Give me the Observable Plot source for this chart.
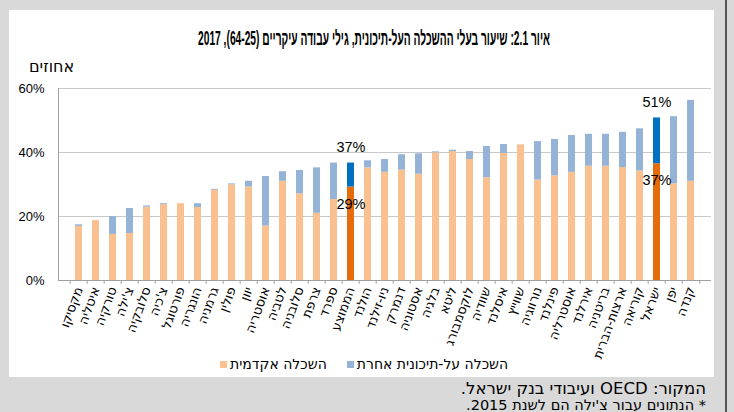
<!DOCTYPE html>
<html lang="he">
<head>
<meta charset="utf-8">
<script src="https://cdn.jsdelivr.net/npm/d3@7"></script>
<script src="https://cdn.jsdelivr.net/npm/@observablehq/plot@0.6"></script>
<style>
  body{margin:0;width:734px;height:412px;background:#d9d9d9;position:relative;overflow:hidden;font-family:"DejaVu Sans","Liberation Sans",sans-serif;color:#000;}
  #panel{position:absolute;left:9px;top:10px;width:705px;height:367px;background:#fff;}
  #rline{position:absolute;left:725px;top:0;width:2px;height:412px;background:#555;}
  #title{position:absolute;left:374px;top:26px;white-space:nowrap;font-weight:bold;font-size:20px;line-height:24px;direction:rtl;font-family:"Liberation Sans","DejaVu Sans",sans-serif;transform-origin:center center;}
  #ylab{position:absolute;left:29px;top:57px;font-size:16px;direction:rtl;white-space:nowrap;}
  #chart{position:absolute;left:0;top:55px;}
  #legend{position:absolute;left:220px;top:356px;display:flex;align-items:center;font-size:14px;white-space:nowrap;}
  .item{display:flex;align-items:center;margin-right:20px;}
  .sq{width:7px;height:7px;margin-right:3px;}
  .txt{direction:rtl;}
  #source{position:absolute;right:28px;top:379px;font-size:16.5px;direction:rtl;white-space:nowrap;}
  #note{position:absolute;right:28px;top:397px;font-size:14.5px;direction:rtl;white-space:nowrap;}
</style>
</head>
<body>
<div id="panel"></div>
<div id="rline"></div>
<div id="title">איור 2.1: שיעור בעלי ההשכלה העל-תיכונית, גילי עבודה עיקריים (64-25), 2017</div>
<div id="ylab">אחוזים</div>
<div id="chart"></div>
<div id="legend"></div>
<div id="source">המקור: OECD ועיבודי בנק ישראל.</div>
<div id="note">* הנתונים עבור צ'ילה הם לשנת 2015.</div>
<script>
const countries = ["מקסיקו","איטליה","טורקיה","צ'ילה","סלובקיה","צ'כיה","פורטוגל","הונגריה","גרמניה","פולין","יוון","אוסטריה","לטביה","סלובניה","צרפת","ספרד","הממוצע","הולנד","ניו-זילנד","דנמרק","אסטוניה","בלגיה","ליטא","לוקסמבורג","שוודיה","איסלנד","שווייץ","נורווגיה","פינלנד","אוסטרליה","אירלנד","בריטניה","ארצות-הברית","קוריאה","ישראל","יפן","קנדה"];
const academic = [16.9,18.7,14.4,14.7,22.9,23.7,24.0,22.8,28.2,29.9,29.2,17.0,31.0,27.1,21.0,25.3,29.2,35.2,33.8,34.5,33.2,39.9,40.3,37.8,32.1,39.7,42.4,31.4,32.7,33.8,35.7,35.7,35.3,34.2,36.5,30.2,31.0];
const otherTertiary = [0.5,0,5.6,7.8,0.4,0.3,0,1.2,0.3,0.3,1.8,15.5,3.0,7.3,14.2,11.4,7.5,2.2,4.0,4.8,6.4,0.3,0.4,2.5,9.8,2.8,0,12.0,11.4,11.5,10.0,10.0,11.0,13.2,14.3,21.0,25.3];
const highlighted = ["הממוצע","ישראל"];
const seriesNames = ["השכלה אקדמית","השכלה על-תיכונית אחרת"];
const yTicks = [0,20,40,60];
const lightColors = ["#FAC090","#95B3D7"];
const darkColors = ["#E46C0A","#0070C0"];

const rows = countries.flatMap((c,i)=>[
  {country:c, series:0, value:academic[i]},
  {country:c, series:1, value:otherTertiary[i]}
]);
const hl = countries.map((c,i)=>({country:c, total:academic[i]+otherTertiary[i], academic:academic[i]}))
  .filter(d=>highlighted.includes(d.country));

const W=734, H=320, ml=58, mr=23, mt=33, mb=95;
const step=(W-ml-mr)/countries.length;
const hebFont='"DejaVu Sans","Liberation Sans",sans-serif';
const numFont='"Liberation Sans","DejaVu Sans",sans-serif';

const chart = Plot.plot({
  width:W, height:H, marginLeft:ml, marginRight:mr, marginTop:mt, marginBottom:mb,
  style:{background:"transparent", fontFamily:numFont, fontSize:"13px", color:"#000"},
  x:{domain:countries, paddingInner:0.58, paddingOuter:0.29, label:null},
  y:{domain:[0,60], label:null},
  color:{type:"identity"},
  marks:[
    Plot.gridY(yTicks.slice(1), {stroke:"#c8c8c8", strokeOpacity:1}),
    Plot.barY(rows, {x:"country", y:"value", fill:d=>(highlighted.includes(d.country)?darkColors:lightColors)[d.series]}),
    Plot.ruleY([0], {stroke:"#a0a0a0"}),
    Plot.frame({anchor:"left", stroke:"#a0a0a0"}),
    Plot.ruleX(countries, {x:d=>d, y1:0, y2:-1.2, dx:-step/2, stroke:"#a0a0a0"}),
    Plot.ruleX(countries.slice(-1), {x:d=>d, y1:0, y2:-1.2, dx:step/2, stroke:"#a0a0a0"}),
    Plot.axisX({tickRotate:-70, tickSize:0, tickPadding:7, fontSize:13, fontFamily:hebFont, textAnchor:"end", label:null}),
    Plot.axisY({ticks:yTicks, tickFormat:d=>d+"%", tickSize:0, tickPadding:14, fontSize:13, label:null}),
    Plot.text(hl, {x:"country", y:"total", text:d=>Math.round(d.total)+"%", dy:-16, fontSize:14.5}),
    Plot.text(hl, {x:"country", y:"academic", text:d=>Math.round(d.academic)+"%", dy:17, fontSize:14.5})
  ]
});
document.getElementById("chart").appendChild(chart);

const legend = document.getElementById("legend");
seriesNames.forEach((name,i)=>{
  const item=document.createElement("div"); item.className="item";
  const sq=document.createElement("div"); sq.className="sq"; sq.style.background=lightColors[i];
  const t=document.createElement("span"); t.className="txt"; t.textContent=name;
  item.appendChild(sq); item.appendChild(t); legend.appendChild(item);
});

// condense title to the reference's width (approx. 352px), centred at x=374
const title=document.getElementById("title");
const tw=title.getBoundingClientRect().width;
title.style.transform=`translateX(-50%) scaleX(${352/tw})`;
</script>
</body>
</html>
